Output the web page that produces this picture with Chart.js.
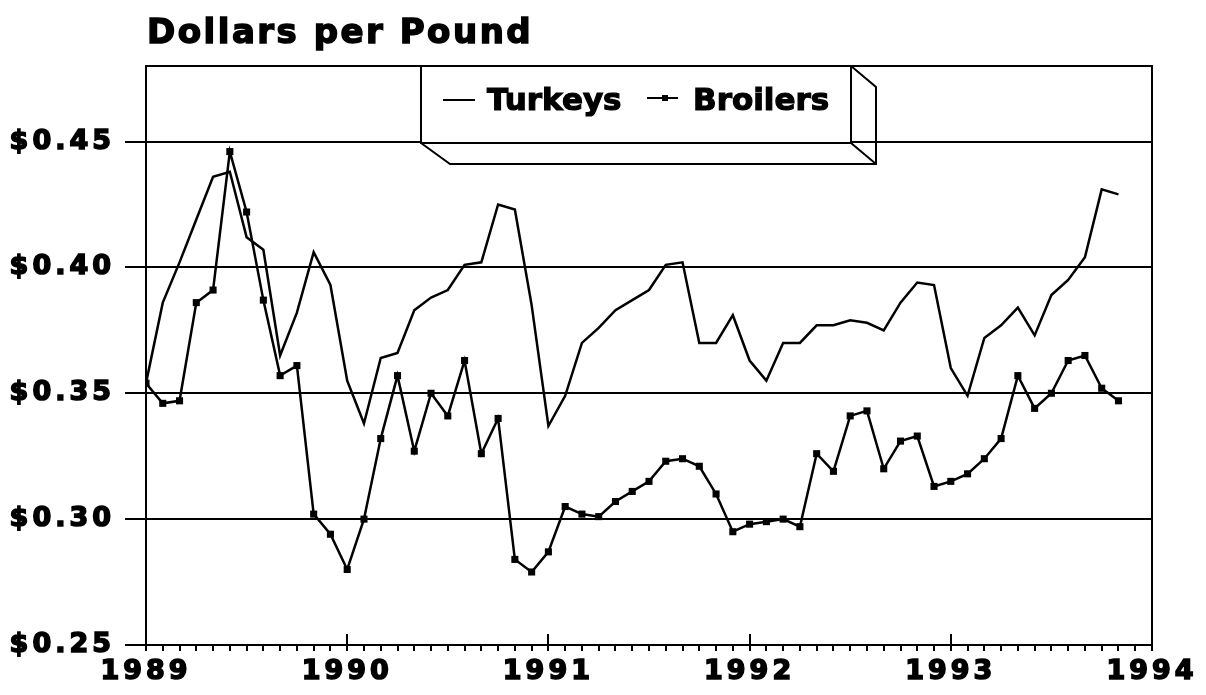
<!DOCTYPE html>
<html lang="en">
<head>
    <meta charset="UTF-8">
    <title>Dollars per Pound</title>
    <script src="https://cdn.jsdelivr.net/npm/chart.js"></script>
    <style>
        * { margin: 0; padding: 0; box-sizing: border-box; }
        body { background: #fff; width: 1206px; height: 695px; overflow: hidden; }
        #chart { display: block; }
    </style>
</head>
<body>
    <canvas id="chart" width="1206" height="695"></canvas>

    <script>
        // Data (monthly, Jan 1989 - Nov 1993)
        const titleText = 'Dollars per Pound';
        const yearLabels = ['1989', '1990', '1991', '1992', '1993', '1994'];
        const yTicks = [0.25, 0.30, 0.35, 0.40, 0.45];

        const turkeys = [
            0.354, 0.386, 0.402, 0.419, 0.436, 0.438, 0.412, 0.407, 0.365, 0.382, 0.406, 0.393,
            0.355, 0.338, 0.364, 0.366, 0.383, 0.388, 0.391, 0.401, 0.402, 0.425, 0.423, 0.385,
            0.337, 0.349, 0.370, 0.376, 0.383, 0.387, 0.391, 0.401, 0.402, 0.370, 0.370, 0.381,
            0.363, 0.355, 0.370, 0.370, 0.377, 0.377, 0.379, 0.378, 0.375, 0.386, 0.394, 0.393,
            0.360, 0.349, 0.372, 0.377, 0.384, 0.373, 0.389, 0.395, 0.404, 0.431, 0.429
        ];
        const broilers = [
            0.354, 0.346, 0.347, 0.386, 0.391, 0.446, 0.422, 0.387, 0.357, 0.361, 0.302, 0.294,
            0.280, 0.300, 0.332, 0.357, 0.327, 0.350, 0.341, 0.363, 0.326, 0.340, 0.284, 0.279,
            0.287, 0.305, 0.302, 0.301, 0.307, 0.311, 0.315, 0.323, 0.324, 0.321, 0.310, 0.295,
            0.298, 0.299, 0.300, 0.297, 0.326, 0.319, 0.341, 0.343, 0.320, 0.331, 0.333, 0.313,
            0.315, 0.318, 0.324, 0.332, 0.357, 0.344, 0.350, 0.363, 0.365, 0.352, 0.347
        ];

        const FONT = 'DejaVu Sans';
        const monthsPerYear = 12;
        const lastMonth = (yearLabels.length - 1) * monthsPerYear;

        // month index -> point
        const toPoints = arr => arr.map((v, i) => ({ x: i, y: v }));

        // Frame, month ticks, title and 3D legend box
        const decorPlugin = {
            id: 'decor',
            beforeDraw(chart) {
                chart.ctx.letterSpacing = '4px';
            },
            beforeDatasetsDraw(chart) {
                chart.ctx.letterSpacing = '0px';
            },
            afterDraw(chart) {
                const ctx = chart.ctx;
                const { left, right, top, bottom } = chart.chartArea;
                const xs = chart.scales.x;
                ctx.save();
                ctx.letterSpacing = '0px';
                ctx.strokeStyle = '#000';
                ctx.fillStyle = '#000';
                ctx.lineWidth = 2;

                // plot frame
                ctx.strokeRect(left, top, right - left, bottom - top);

                // monthly ticks below the axis, year ticks rising above it
                ctx.lineWidth = 2;
                for (let m = 0; m <= lastMonth; m++) {
                    const x = Math.round(xs.getPixelForValue(m));
                    ctx.beginPath();
                    ctx.moveTo(x, m % monthsPerYear === 0 ? bottom - 11 : bottom);
                    ctx.lineTo(x, bottom + 6);
                    ctx.stroke();
                }

                // title
                ctx.font = 'bold 34px "' + FONT + '"';
                ctx.letterSpacing = '2.5px';
                ctx.textAlign = 'left';
                ctx.textBaseline = 'alphabetic';
                ctx.lineWidth = 1.5;
                ctx.fillText(titleText, left + 1, 43);
                ctx.strokeText(titleText, left + 1, 43);
                ctx.letterSpacing = '0px';

                // legend box with 3D edges
                const lx0 = 421, lx1 = 851, ly0 = top, ly1 = 143, dx = 25, dy = 21;
                ctx.lineWidth = 2;
                ctx.fillStyle = '#fff';
                ctx.fillRect(lx0, ly0, lx1 - lx0, ly1 - ly0);
                ctx.strokeRect(lx0, ly0, lx1 - lx0, ly1 - ly0);
                ctx.beginPath();
                ctx.moveTo(lx0, ly1);
                ctx.lineTo(lx0 + 29, ly1 + dy);
                ctx.lineTo(lx1 + dx, ly1 + dy);
                ctx.lineTo(lx1 + dx, ly0 + dy);
                ctx.lineTo(lx1, ly0);
                ctx.moveTo(lx1, ly1);
                ctx.lineTo(lx1 + dx, ly1 + dy);
                ctx.stroke();

                ctx.fillStyle = '#000';
                ctx.font = 'bold 31px "' + FONT + '"';
                const [dsT, dsB] = chart.data.datasets;
                // Turkeys sample
                ctx.lineWidth = 2;
                ctx.beginPath();
                ctx.moveTo(443, 100);
                ctx.lineTo(475, 100);
                ctx.stroke();
                ctx.lineWidth = 1.2;
                ctx.fillText(dsT.label, 487, 110);
                ctx.strokeText(dsT.label, 487, 110);
                // Broilers sample
                ctx.lineWidth = 2;
                ctx.beginPath();
                ctx.moveTo(647, 98);
                ctx.lineTo(678, 98);
                ctx.stroke();
                ctx.fillRect(662, 95, 6, 6);
                ctx.lineWidth = 1.2;
                ctx.fillText(dsB.label, 693, 110);
                ctx.strokeText(dsB.label, 693, 110);

                ctx.restore();
            }
        };

        const tickFont = { family: FONT, size: 27, weight: 'bold' };

        new Chart(document.getElementById('chart'), {
            type: 'line',
            data: {
                datasets: [
                    {
                        label: 'Turkeys',
                        data: toPoints(turkeys),
                        borderColor: '#000',
                        borderWidth: 2.5,
                        pointRadius: 0,
                        tension: 0
                    },
                    {
                        label: 'Broilers',
                        data: toPoints(broilers),
                        borderColor: '#000',
                        backgroundColor: '#000',
                        borderWidth: 2.5,
                        pointStyle: 'rect',
                        pointRadius: 5,
                        pointBorderWidth: 0,
                        tension: 0
                    }
                ]
            },
            options: {
                responsive: false,
                animation: false,
                devicePixelRatio: 1,
                layout: { padding: { top: 66, right: 54, left: 0, bottom: 0 } },
                plugins: {
                    legend: { display: false },
                    tooltip: { enabled: false }
                },
                scales: {
                    x: {
                        type: 'linear',
                        min: 0,
                        max: lastMonth,
                        afterBuildTicks: s => {
                            s.ticks = yearLabels.map((_, i) => ({ value: i * monthsPerYear }));
                        },
                        afterFit: s => { s.height = 50; },
                        ticks: {
                            callback: v => yearLabels[Math.round(v / monthsPerYear)],
                            color: '#000',
                            font: tickFont,
                            textStrokeColor: '#000',
                            textStrokeWidth: 1.6,
                            padding: 11,
                            maxRotation: 0,
                            autoSkip: false
                        },
                        grid: { display: true, drawOnChartArea: false, drawTicks: false, color: '#000' },
                        border: { display: true, color: '#000', width: 2 }
                    },
                    y: {
                        min: 0.25,
                        max: 0.48,
                        afterBuildTicks: s => {
                            s.ticks = yTicks.map(v => ({ value: v }));
                        },
                        afterFit: s => { s.width = 146; },
                        ticks: {
                            callback: v => '$' + v.toFixed(2),
                            color: '#000',
                            font: tickFont,
                            textStrokeColor: '#000',
                            textStrokeWidth: 1.6,
                            padding: 10
                        },
                        grid: { color: '#000', lineWidth: 2, tickLength: 21 },
                        border: { display: true, color: '#000', width: 2 }
                    }
                }
            },
            plugins: [decorPlugin]
        });
    </script>
</body>
</html>
